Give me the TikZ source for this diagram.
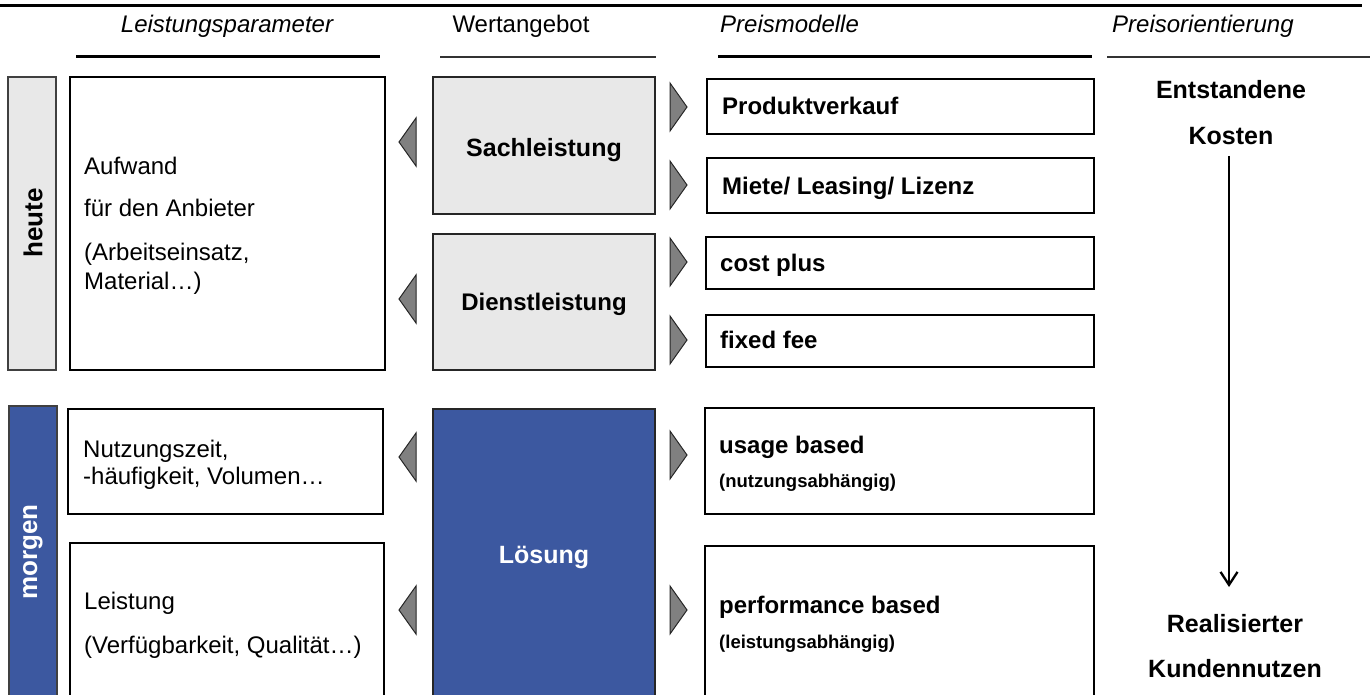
\documentclass[tikz,border=0pt]{standalone}
\usepackage{fontspec}
\setmainfont{Liberation Sans}
\usetikzlibrary{arrows.meta}
\definecolor{blu}{HTML}{3C58A0}
\definecolor{lgray}{HTML}{E8E8E8}
\definecolor{tgray}{HTML}{808080}
\newcommand\fsz[1]{\fontsize{#1pt}{#1pt}\selectfont}
\begin{document}
\begin{tikzpicture}[x=1pt,y=-1pt,
  box/.style={draw=black, line width=2.5pt, anchor=north west, inner sep=0pt, outer sep=0pt},
  graybox/.style={box, fill=lgray, draw=black!85},
  bluebox/.style={box, fill=blu, draw=black!85},
  sidebar/.style={anchor=north west, inner sep=0pt, outer sep=0pt, draw=black!75, line width=1.2pt},
  txt/.style={anchor=base west, inner sep=0pt, font=\fsz{24}},
  btxt/.style={anchor=base west, inner sep=0pt, font=\fsz{24}\bfseries},
  stxt/.style={anchor=base west, inner sep=0pt, font=\fsz{18.5}\bfseries},
  ctxt/.style={anchor=base, inner sep=0pt, font=\fsz{25}\bfseries},
  head/.style={anchor=base, inner sep=0pt, font=\fsz{24}\itshape},
  rule/.style={line width=3pt},
  tri/.style={fill=tgray, draw=black!85, line width=1pt, line join=miter},
  arr/.style={line width=2.3pt, -{Straight Barb[length=13pt,width=17pt,line width=2.3pt]}}
]
\useasboundingbox (0,0) rectangle (1370,695);
\clip (0,0) rectangle (1370,695);

% top rule and headers
\coordinate (tl) at (0,6);
\coordinate (tr) at (1362,6);
\draw[rule] (tl) -- (tr);
\node[head] (h1) at (227,33) {Leistungsparameter};
\node[head, font=\fsz{24}] (h2) at (521,33) {Wertangebot};
\node[head, anchor=base west] (h3) at (720,33) {Preismodelle};
\node[head, anchor=base west] (h4) at (1112,33) {Preisorientierung};
\coordinate (u1a) at (76,57);   \coordinate (u1b) at (380,57);
\coordinate (u2a) at (440,57);  \coordinate (u2b) at (656,57);
\coordinate (u3a) at (718,57);  \coordinate (u3b) at (1092,57);
\coordinate (u4a) at (1107,57); \coordinate (u4b) at (1370,57);
\draw[rule] (u1a) -- (u1b);
\draw[rule, line width=2.6pt, black!80] (u2a) -- (u2b);
\draw[rule] (u3a) -- (u3b);
\draw[rule, line width=2.6pt, black!80] (u4a) -- (u4b);

% heute block
\node[sidebar, fill=lgray, minimum width=48pt, minimum height=293pt] (heute) at (8,77) {};
\node[anchor=center, rotate=90, inner sep=0pt, font=\fsz{26}\bfseries] (heutet) at (33,223) {heute};
\node[box, minimum width=315pt, minimum height=293pt] (aufwand) at (70,77) {};
\node[txt] (a1) at (84,175) {Aufwand};
\node[txt] (a2) at (84,217) {für den Anbieter};
\node[txt] (a3) at (84,260) {(Arbeitseinsatz,};
\node[txt] (a4) at (84,289) {Material…)};

\node[graybox, minimum width=222pt, minimum height=137pt] (sach) at (433,77) {};
\node[ctxt] (sacht) at (544,157) {Sachleistung};
\node[graybox, minimum width=222pt, minimum height=136pt] (dienst) at (433,234) {};
\node[ctxt, font=\fsz{24}\bfseries] (dienstt) at (544,310) {Dienstleistung};

\node[box, minimum width=387pt, minimum height=55pt] (prod) at (707,79) {};
\node[btxt] (prodt) at (722,115) {Produktverkauf};
\node[box, minimum width=387pt, minimum height=55pt] (miete) at (707,158) {};
\node[btxt] (mietet) at (722,194) {Miete/ Leasing/ Lizenz};
\node[box, minimum width=388pt, minimum height=52pt] (cost) at (706,237) {};
\node[btxt] (costt) at (720,271) {cost plus};
\node[box, minimum width=388pt, minimum height=52pt] (fixed) at (706,315) {};
\node[btxt] (fixedt) at (720,348) {fixed fee};

% morgen block
\node[sidebar, fill=blu, minimum width=48pt, minimum height=300pt] (morgen) at (9,406) {};
\node[anchor=center, rotate=90, inner sep=0pt, font=\fsz{26}\bfseries, text=white] (morgent) at (33,552) {morgen};
\node[box, minimum width=315pt, minimum height=105pt] (nutz) at (68,409) {};
\node[txt] (n1) at (83,457) {Nutzungszeit,};
\node[txt] (n2) at (83,484) {-häufigkeit, Volumen…};
\node[box, minimum width=314pt, minimum height=200pt] (leist) at (70,543) {};
\node[txt] (l1) at (84,609) {Leistung};
\node[txt] (l2) at (84,653) {(Verfügbarkeit, Qualität…)};

\node[bluebox, minimum width=222pt, minimum height=300pt] (loes) at (433,409) {};
\node[ctxt, text=white] (loest) at (544,563) {Lösung};

\node[box, minimum width=389pt, minimum height=106pt] (usage) at (705,408) {};
\node[btxt] (us1) at (719,453) {usage based};
\node[stxt] (us2) at (719,487) {(nutzungsabhängig)};
\node[box, minimum width=389pt, minimum height=200pt] (perf) at (705,546) {};
\node[btxt] (pe1) at (719,613) {performance based};
\node[stxt] (pe2) at (719,648) {(leistungsabhängig)};

% triangles pointing left
\foreach \yy in {142,299,457,610}{
  \draw[tri] (416,\yy-24) -- (399,\yy) -- (416,\yy+24) -- cycle;
}
% triangles pointing right
\foreach \yy in {107,185,262,340,455,610}{
  \draw[tri] (670,\yy-24) -- (687,\yy) -- (670,\yy+24) -- cycle;
}

% Preisorientierung
\node[ctxt] (ent) at (1231,99) {Entstandene};
\node[ctxt] (kos) at (1231,145) {Kosten};
\node[ctxt] (rea) at (1235,632) {Realisierter};
\node[ctxt] (kun) at (1235,677) {Kundennutzen};
\coordinate (arrA) at (1229,156);
\coordinate (arrB) at (1229,587);
\draw[arr] (arrA) -- (arrB);
\end{tikzpicture}
\end{document}
